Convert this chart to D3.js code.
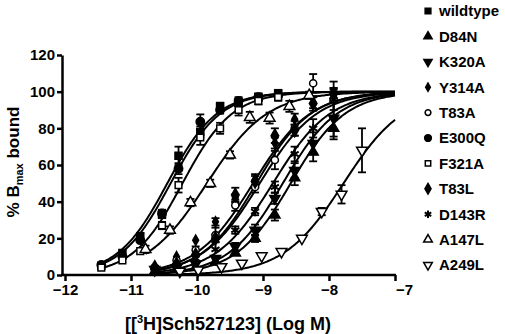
<!DOCTYPE html>
<html>
<head>
<meta charset="utf-8">
<script src="https://cdn.jsdelivr.net/npm/d3@7"></script>
<style>
  body { margin: 0; background: #fff; }
  svg { display: block; font-family: "Liberation Sans", Arial, sans-serif; font-weight: bold; }
</style>
</head>
<body>
<div id="chart"></div>
<script>
// tick labels
const xTicks = [-12, -11, -10, -9, -8, -7];
const yTicks = [0, 20, 40, 60, 80, 100, 120];

// series names in legend order
const names = ["wildtype", "D84N", "K320A", "Y314A", "T83A", "E300Q", "F321A", "T83L", "D143R", "A147L", "A249L"];

// log concentration grids
const xLeft = [-11.45, -11.13, -10.86, -10.53, -10.28, -9.95, -9.65, -9.37, -9.07, -8.77];
const xMid = [-10.64, -10.31, -10.02, -9.72, -9.42, -9.12, -8.82, -8.52, -8.24, -7.93];
const xA147L = [-10.78, -10.41, -10.1, -9.8, -9.5, -9.2, -8.9, -8.6, -8.3];
const xA249L = [-10.26, -9.98, -9.63, -9.32, -9.02, -8.72, -8.41, -8.11, -7.81, -7.5];

// % Bmax bound, and SEM
const wildtypeY = [5, 12, 21, 33, 65, 78, 92, 94, 97, 99];
const wildtypeE = [1, 1, 2, 2, 5, 3, 2, 2, 2, 2];
const d84nY = [2, 3, 4, 7, 12, 20, 32.7, 53, 67, 80];
const d84nE = [1, 1, 1, 1, 1, 2, 3, 4, 5, 6];
const k320aY = [3, 4, 6, 9, 15.5, 24.5, 41.8, 57, 71.8, 85.5];
const k320aE = [1, 1, 1, 1, 2, 3, 3, 4, 6, 10];
const y314aY = [5, 10, 19, 29, 42, 52, 72, 85, 94, 98];
const y314aE = [1, 1, 1, 2, 2, 3, 3, 3, 3, 3];
const t83aY = [4, 8, 13.6, 21.8, 38, 48, 62.7, 80, 104.6, 96];
const t83aE = [1, 1, 2, 4, 3, 3, 5, 4, 5, 6];
const e300qY = [5.5, 10, 19, 33.6, 58, 83.6, 90, 95, 97, 98];
const e300qE = [1, 1, 1, 2, 3, 4, 2, 2, 2, 2];
const f321aY = [4, 8, 13, 27, 49, 75, 80, 90, 95, 97];
const f321aE = [1, 1, 1, 2, 4, 4, 3, 3, 2, 2];
const t83lY = [3, 6, 11, 20, 43.6, 51, 76, 79, 93.6, 99];
const t83lE = [1, 1, 1, 2, 4, 3, 4, 3, 4, 3];
const d143rY = [4, 5, 9, 14, 24.5, 34.6, 48, 66, 80, 95.5];
const d143rE = [1, 1, 1, 1, 2, 2, 3, 4, 5, 10];
const a147lY = [14, 24.5, 39.5, 50, 65.5, 86, 85.6, 92, 98];
const a147lE = [2, 2, 2, 2, 2, 3, 3, 3, 2];
const a249lY = [2, 2.7, 4.5, 6.4, 10.4, 12.7, 20, 34.6, 44, 68];
const a249lE = [1, 1, 1, 1, 1, 1, 1, 2, 5, 12];

// fitted curve parameters (logEC50, Hill slope)
const logEC50 = [-10.45, -8.58, -8.7, -9.15, -9.05, -10.4, -10.22, -9.1, -8.85, -9.85, -7.78];
const hill = [1.15, 1.05, 1.05, 1.0, 1.0, 1.15, 1.15, 1.05, 1.0, 0.95, 0.95];

const xs = [xLeft, xMid, xMid, xMid, xMid, xLeft, xLeft, xMid, xMid, xA147L, xA249L];
const ys = [wildtypeY, d84nY, k320aY, y314aY, t83aY, e300qY, f321aY, t83lY, d143rY, a147lY, a249lY];
const es = [wildtypeE, d84nE, k320aE, y314aE, t83aE, e300qE, f321aE, t83lE, d143rE, a147lE, a249lE];

const width = 505, height = 334;

const x = d3.scaleLinear().domain([-12, -7]).range([65, 395]);
const y = d3.scaleLinear().domain([0, 120]).range([275, 55]);

const svg = d3.select("#chart").append("svg")
    .attr("width", width)
    .attr("height", height);

// symbol for each series
const symbols = [
    { type: d3.symbolSquare, size: 50, fill: "#000", rot: 0 },
    { type: d3.symbolTriangle, size: 45, fill: "#000", rot: 0 },
    { type: d3.symbolTriangle, size: 45, fill: "#000", rot: 180 },
    { type: d3.symbolDiamond, size: 30, fill: "#000", rot: 0 },
    { type: d3.symbolCircle, size: 40, fill: "#fff", rot: 0 },
    { type: d3.symbolCircle, size: 55, fill: "#000", rot: 0 },
    { type: d3.symbolSquare, size: 45, fill: "#fff", rot: 0 },
    { type: d3.symbolDiamond, size: 50, fill: "#000", rot: 0 },
    { type: d3.symbolAsterisk, size: 60, fill: "none", rot: 0 },
    { type: d3.symbolTriangle, size: 50, fill: "#fff", rot: 0 },
    { type: d3.symbolTriangle, size: 50, fill: "#fff", rot: 180 }
];

const logistic = (lx, i) => 100 / (1 + Math.pow(10, hill[i] * (logEC50[i] - lx)));

const line = d3.line().x(d => x(d[0])).y(d => y(d[1]));

// fitted curves
names.forEach((n, i) => {
    const pts = d3.range(xs[i][0], -7.0001, 0.02).concat([-7]).map(lx => [lx, logistic(lx, i)]);
    svg.append("path")
        .datum(pts)
        .attr("d", line)
        .attr("fill", "none")
        .attr("stroke", "#000")
        .attr("stroke-width", 2);
});

// error bars
names.forEach((n, i) => {
    const g = svg.append("g").attr("stroke", "#000").attr("stroke-width", 1.8);
    xs[i].forEach((lx, j) => {
        const e = es[i][j];
        if (e < 2) return;
        const cx = x(lx), top = y(ys[i][j] + e), bot = y(ys[i][j] - e);
        g.append("line").attr("x1", cx).attr("x2", cx).attr("y1", top).attr("y2", bot);
        g.append("line").attr("x1", cx - 4).attr("x2", cx + 4).attr("y1", top).attr("y2", top);
        g.append("line").attr("x1", cx - 4).attr("x2", cx + 4).attr("y1", bot).attr("y2", bot);
    });
});

// points
names.forEach((n, i) => {
    const s = symbols[i];
    svg.append("g")
        .selectAll("path")
        .data(xs[i].map((lx, j) => [lx, ys[i][j]]))
        .join("path")
        .attr("d", d3.symbol().type(s.type).size(s.size))
        .attr("transform", d => `translate(${x(d[0])},${y(d[1])}) rotate(${s.rot})`)
        .attr("fill", s.fill)
        .attr("stroke", "#000")
        .attr("stroke-width", s.type === d3.symbolAsterisk ? 2 : 1.5);
});

// axes
const yAxis = svg.append("g")
    .attr("transform", "translate(62,0)")
    .call(d3.axisLeft(y).tickValues(yTicks).tickSize(5).tickSizeOuter(0).tickPadding(2));
yAxis.select(".domain").attr("stroke-width", 2.5);
yAxis.selectAll(".tick line").attr("stroke-width", 2.5);
yAxis.selectAll(".tick text").attr("font-size", 15).attr("font-weight", "bold").attr("fill", "#000");

const xAxis = svg.append("g")
    .attr("transform", "translate(0,275)")
    .call(d3.axisBottom(x).tickValues(xTicks).tickSize(6).tickSizeOuter(0).tickPadding(3).tickFormat(d3.format("d")));
xAxis.select(".domain").remove();
xAxis.append("line").attr("x1", 61).attr("x2", 396).attr("stroke", "#000").attr("stroke-width", 2.5);
xAxis.selectAll(".tick line").attr("stroke-width", 2.5);
xAxis.selectAll(".tick text").attr("font-size", 15).attr("font-weight", "bold").attr("fill", "#000")
    .attr("dx", d => d === -7 ? 9 : 0);

// axis titles
const yt = svg.append("text")
    .attr("transform", "translate(19,162) rotate(-90)")
    .attr("text-anchor", "middle")
    .attr("font-size", 17);
yt.append("tspan").text("% B");
yt.append("tspan").attr("font-size", 11).attr("dy", 4).text("max");
yt.append("tspan").attr("dy", -4).text(" bound");

const xt = svg.append("text")
    .attr("x", 228)
    .attr("y", 330)
    .attr("text-anchor", "middle")
    .attr("font-size", 18);
xt.append("tspan").text("[[");
xt.append("tspan").attr("font-size", 11).attr("dy", -7).text("3");
xt.append("tspan").attr("dy", 7).text("H]Sch527123] (Log M)");

// legend
const legend = svg.append("g");
names.forEach((n, i) => {
    const s = symbols[i];
    const ly = 11 + i * 25.4;
    legend.append("path")
        .attr("d", d3.symbol().type(s.type).size(s.size * 0.65))
        .attr("transform", `translate(428,${ly}) rotate(${s.rot})`)
        .attr("fill", s.fill)
        .attr("stroke", "#000")
        .attr("stroke-width", s.type === d3.symbolAsterisk ? 2 : 1.5);
    legend.append("text")
        .attr("x", 439)
        .attr("y", ly)
        .attr("dy", "0.36em")
        .attr("font-size", 15)
        .text(n);
});
</script>
</body>
</html>
